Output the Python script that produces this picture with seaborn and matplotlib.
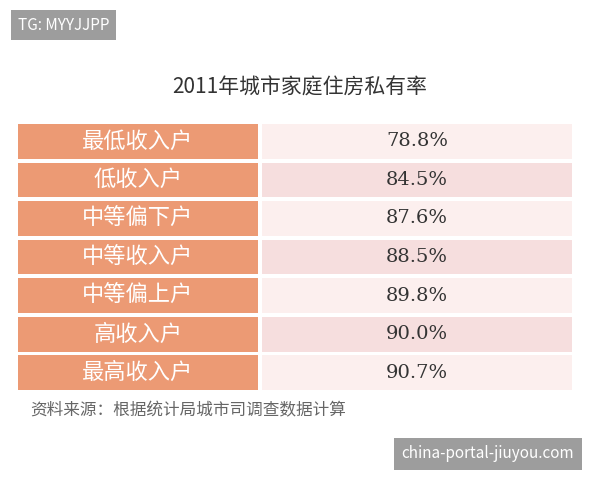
import matplotlib
matplotlib.use("Agg")
import matplotlib.pyplot as plt
import seaborn as sns
from matplotlib.patches import FancyBboxPatch

categories = ["最低收入户", "低收入户", "中等偏下户", "中等收入户", "中等偏上户", "高收入户", "最高收入户"]
values = [78.8, 84.5, 87.6, 88.5, 89.8, 90.0, 90.7]
title = "2011年城市家庭住房私有率"
source = "资料来源：根据统计局城市司调查数据计算"

sns.set_theme(style="white")
plt.rcParams['font.family'] = ['Noto Sans CJK SC', 'DejaVu Sans']

fig = plt.figure(figsize=(6, 4.8), dpi=100)
fig.patch.set_facecolor("white")

# table axes: x 18..572 px, y 122..392 px
ax = fig.add_axes([18/600, (480-392)/480, (572-18)/600, 270/480])
ax.set_xlim(0, 554)
ax.set_ylim(len(categories) - 0.5, -0.5)
ax.axis("off")
ys = list(range(len(categories)))
ax.barh(ys, [240]*len(ys), left=0, height=0.9, color="#ec9a74", edgecolor="none")
right_cols = ["#fcefee" if i % 2 == 0 else "#f6dede" for i in ys]
ax.barh(ys, [310]*len(ys), left=244, height=0.9, color=right_cols, edgecolor="none")
for i, (c, v) in enumerate(zip(categories, values)):
    ax.text(120, i, c, ha="center", va="center", color="white", fontsize=16)
    ax.text(399, i, f"{v:.1f}%", ha="center", va="center", color="#333333", fontsize=14, family="DejaVu Serif")

fig.text(0.5, (480-88)/480, title, ha="center", va="center", fontsize=15, color="#333333")
fig.text(30/600, (480-411)/480, source, ha="left", va="center", fontsize=12, color="#666666")

fig.text(18/600, (480-25)/480, "TG: MYYJJPP", ha="left", va="center", fontsize=11, color="white",
         bbox=dict(boxstyle="square,pad=0.45", facecolor="#9d9d9d", edgecolor="none"))
fig.text(488/600, (480-454)/480, "china-portal-jiuyou.com", ha="center", va="center", fontsize=11, color="white",
         bbox=dict(boxstyle="square,pad=0.5", facecolor="#9d9d9d", edgecolor="none"))

fig.savefig("out.png", dpi=100)
